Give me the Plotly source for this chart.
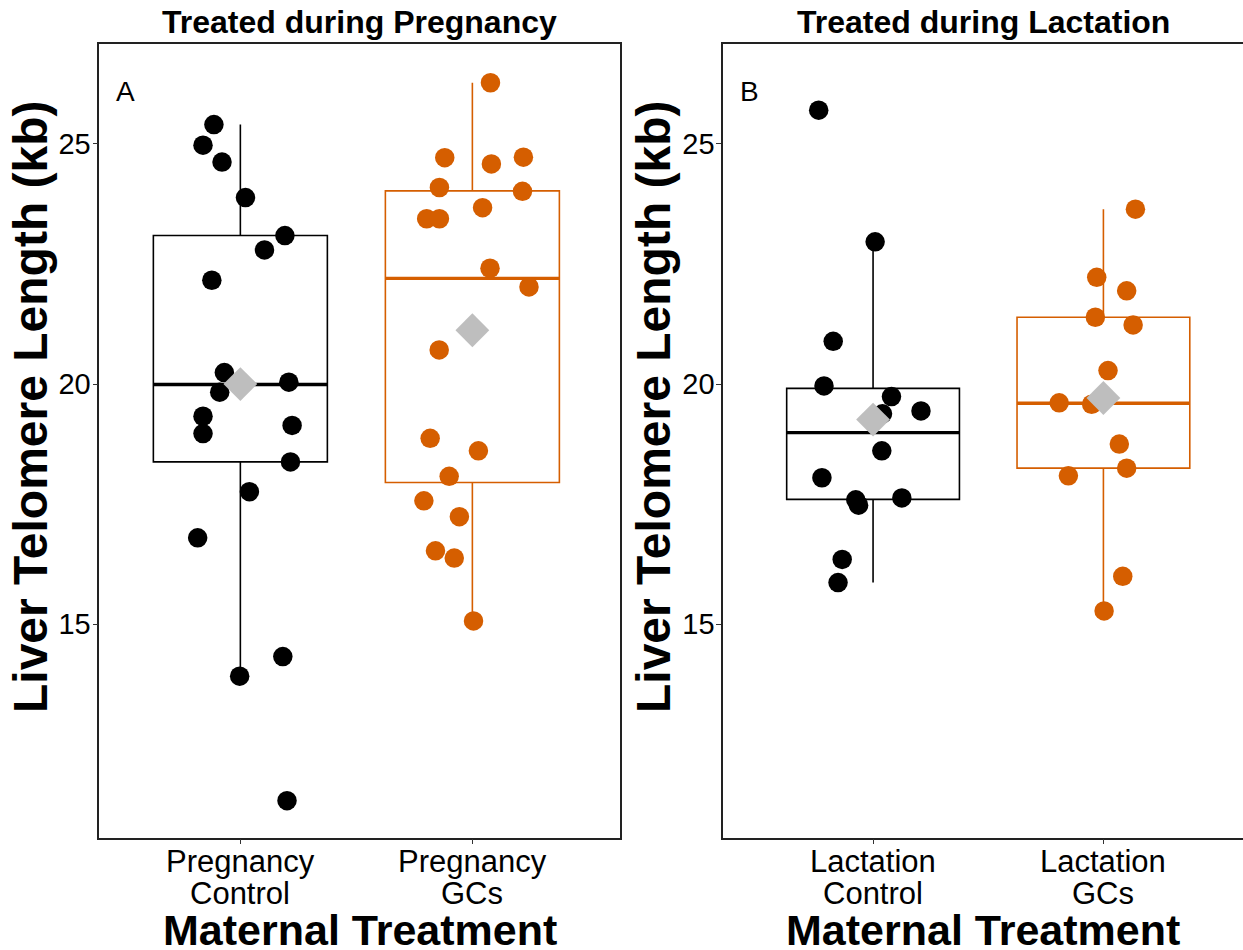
import plotly.graph_objects as go

# Liver telomere length (kb) per pup, with horizontal jitter (category units)
preg_ctrl_kb = [25.40, 24.97, 24.62, 23.88, 23.09, 22.79, 22.16, 20.24, 19.83, 20.04,
                19.33, 18.97, 19.14, 18.38, 17.76, 16.80, 14.33, 13.92, 11.33]
preg_ctrl_jit = [-0.114, -0.161, -0.079, 0.022, 0.192, 0.104, -0.123, -0.069, -0.089, 0.209,
                 -0.161, -0.161, 0.223, 0.216, 0.039, -0.184, 0.183, -0.003, 0.201]

preg_gc_kb = [26.27, 24.71, 24.58, 24.72, 24.09, 24.01, 23.67, 23.44, 23.44, 22.41,
              22.02, 20.71, 18.87, 18.61, 18.08, 17.57, 17.24, 16.53, 16.38, 15.07]
preg_gc_jit = [0.078, -0.119, 0.082, 0.220, -0.142, 0.216, 0.044, -0.197, -0.142, 0.076,
               0.244, -0.143, -0.182, 0.026, -0.100, -0.209, -0.056, -0.159, -0.078, 0.005]

lact_ctrl_kb = [25.70, 22.96, 20.89, 19.96, 19.74, 19.38, 19.44, 18.61, 18.05, 17.59,
                17.48, 17.63, 16.35, 15.87]
lact_ctrl_jit = [-0.236, 0.009, -0.173, -0.213, 0.080, 0.041, 0.208, 0.038, -0.222, -0.075,
                 -0.063, 0.125, -0.134, -0.152]

lact_gc_kb = [23.64, 22.22, 21.94, 21.39, 21.23, 20.28, 19.61, 19.58, 18.75, 18.25,
              18.09, 16.00, 15.28]
lact_gc_jit = [0.139, -0.029, 0.101, -0.035, 0.129, 0.020, -0.192, -0.051, 0.069, 0.101,
               -0.152, 0.084, 0.003]

# Box summaries: [q1, median, q3, lower whisker, upper whisker]
preg_ctrl_box = [18.38, 19.99, 23.09, 13.92, 25.40]
preg_gc_box = [17.95, 22.20, 24.02, 15.07, 26.27]
lact_ctrl_box = [17.60, 18.99, 19.91, 15.87, 22.96]
lact_gc_box = [18.25, 19.60, 21.39, 15.28, 23.64]

# Group means
preg_means = [20.00, 21.12]
lact_means = [19.26, 19.71]

preg_labels = [["Pregnancy", "Control"], ["Pregnancy", "GCs"]]
lact_labels = [["Lactation", "Control"], ["Lactation", "GCs"]]
panel_titles = ["Treated during Pregnancy", "Treated during Lactation"]
panel_tags = ["A", "B"]
y_title = "Liver Telomere Length (kb)"
x_title = "Maternal Treatment"

BLACK = "#000000"
ORANGE = "#D55E00"
MEAN_GREY = "#BEBEBE"
FONT = "Liberation Sans, Arial, sans-serif"
BOX_W = 0.75

W, H = 1243, 950
dom_a = [99.3 / W, 619.7 / W]
dom_b = [723.1 / W, 1.0]
dom_y = [(H - 837.7) / H, (H - 44.3) / H]

fig = go.Figure()


def add_panel(xa, ya, boxes, means, points):
    colors = [BLACK, ORANGE]
    for i, (stats, col) in enumerate(zip(boxes, colors)):
        pos = i + 1
        q1, med, q3, lo, hi = stats
        fig.add_trace(go.Box(
            x=[pos], q1=[q1], median=[med], q3=[q3], lowerfence=[lo], upperfence=[hi],
            width=BOX_W, whiskerwidth=0, boxpoints=False,
            line=dict(color=col, width=1.6), fillcolor="rgba(0,0,0,0)",
            xaxis=xa, yaxis=ya, showlegend=False, hoverinfo="skip"))
        fig.add_trace(go.Scatter(
            x=[pos - BOX_W / 2, pos + BOX_W / 2], y=[med, med], mode="lines",
            line=dict(color=col, width=3.4), xaxis=xa, yaxis=ya,
            showlegend=False, hoverinfo="skip"))
    for i, ((vals, jit), col) in enumerate(zip(points, colors)):
        pos = i + 1
        fig.add_trace(go.Scatter(
            x=[pos + j for j in jit], y=vals, mode="markers",
            marker=dict(color=col, size=19.5, line=dict(width=0)),
            xaxis=xa, yaxis=ya, showlegend=False))
    fig.add_trace(go.Scatter(
        x=[1, 2], y=means, mode="markers",
        marker=dict(symbol="diamond", color=MEAN_GREY, size=26, line=dict(width=0)),
        xaxis=xa, yaxis=ya, showlegend=False))


add_panel("x", "y", [preg_ctrl_box, preg_gc_box], preg_means,
          [(preg_ctrl_kb, preg_ctrl_jit), (preg_gc_kb, preg_gc_jit)])
add_panel("x2", "y2", [lact_ctrl_box, lact_gc_box], lact_means,
          [(lact_ctrl_kb, lact_ctrl_jit), (lact_gc_kb, lact_gc_jit)])

axis_line = dict(showline=True, linecolor="#222222", linewidth=1.5, ticks="outside",
                 ticklen=5, tickwidth=1.2, tickcolor="#333333", showgrid=False,
                 zeroline=False)
yrange = [10.56, 27.07]
tickfont = dict(family=FONT, size=29, color="#000000")

fig.update_layout(
    width=W, height=H, margin=dict(l=0, r=0, t=0, b=0),
    paper_bgcolor="white", plot_bgcolor="white",
    xaxis=dict(domain=dom_a, range=[0.392, 2.635], tickvals=[1, 2],
               showticklabels=False, mirror=True, anchor="y", **axis_line),
    yaxis=dict(domain=dom_y, range=yrange, tickvals=[15, 20, 25],
               tickfont=tickfont, ticklabelstandoff=-4, mirror=True, anchor="x",
               **axis_line),
    xaxis2=dict(domain=dom_b, range=[0.349, 2.606], tickvals=[1, 2],
                showticklabels=False, mirror=True, anchor="y2", **axis_line),
    yaxis2=dict(domain=dom_y, range=yrange, tickvals=[15, 20, 25],
                tickfont=tickfont, ticklabelstandoff=-4, mirror=False, anchor="x2",
                **axis_line),
)

ann = []
for xa, labels in (("x", preg_labels), ("x2", lact_labels)):
    for i, (l1, l2) in enumerate(labels):
        for line, yy in ((l1, 861), (l2, 893)):
            ann.append(dict(x=i + 1, xref=xa, y=(H - yy) / H, yref="paper",
                            text=line, showarrow=False, xanchor="center", yanchor="middle",
                            font=dict(family=FONT, size=31, color="#000000")))

for dom, title, tag in ((dom_a, panel_titles[0], panel_tags[0]),
                        (dom_b, panel_titles[1], panel_tags[1])):
    cx = (dom[0] + dom[1]) / 2
    ann.append(dict(x=cx, xref="paper", y=(H - 22) / H, yref="paper", text=f"<b>{title}</b>",
                    showarrow=False, xanchor="center", yanchor="middle",
                    font=dict(family=FONT, size=32, color="#000000")))
    ann.append(dict(x=cx, xref="paper", y=(H - 930) / H, yref="paper", text=f"<b>{x_title}</b>",
                    showarrow=False, xanchor="center", yanchor="middle",
                    font=dict(family=FONT, size=43, color="#000000")))
    ann.append(dict(x=dom[0] + 26 / W, xref="paper", y=(H - 91) / H, yref="paper", text=tag,
                    showarrow=False, xanchor="center", yanchor="middle",
                    font=dict(family=FONT, size=28, color="#000000")))

for xpx in (30, 653):
    ann.append(dict(x=xpx / W, xref="paper", y=(H - 407) / H, yref="paper",
                    text=f"<b>{y_title}</b>", textangle=-90, showarrow=False,
                    xanchor="center", yanchor="middle",
                    font=dict(family=FONT, size=48, color="#000000")))

fig.update_layout(annotations=ann)
fig.write_html("out.html")
